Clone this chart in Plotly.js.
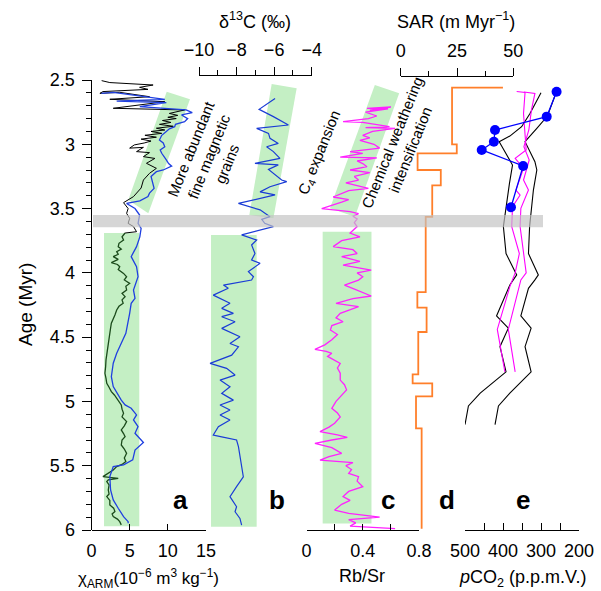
<!DOCTYPE html>
<html><head><meta charset="utf-8">
<script src="https://cdn.plot.ly/plotly-3.0.1.min.js"></script>
<style>html,body{margin:0;padding:0;background:#fff}</style>
</head><body><div id="chart" style="width:601px;height:591px"></div>
<script>
// ---------- DATA ----------
// Age axis ticks
const ageTicks = [2.5, 3, 3.5, 4, 4.5, 5, 5.5, 6];
const ageTickText = ['2.5', '3', '3.5', '4', '4.5', '5', '5.5', '6'];

// Panel a: chi_ARM (age, value)
const aBlack = [[2.505,1.33],[2.52,2.4],[2.539,8.07],[2.557,6.3],[2.573,7.4],[2.59,1.5],[2.604,1.1],[2.596,3.7],[2.63,7.6],[2.65,2.4],[2.669,9.6],[2.72,2.85],[2.733,12.2],[2.76,10.2],[2.775,11.3],[2.79,10.0],[2.80,11.1],[2.815,9.3],[2.83,10.4],[2.845,8.9],[2.86,10.7],[2.875,8.5],[2.889,9.6],[2.90,7.8],[2.915,9.2],[2.93,7.0],[2.945,8.5],[2.96,6.5],[2.975,7.8],[2.99,6.9],[3.005,5.6],[3.03,5.0],[3.024,6.8],[3.057,5.9],[3.065,7.6],[3.096,6.8],[3.11,8.3],[3.148,7.2],[3.187,8.5],[3.226,7.6],[3.278,6.8],[3.34,6.5],[3.407,5.5],[3.433,4.8],[3.454,4.2],[3.5,4.8],[3.537,4.6],[3.576,5.0],[3.615,4.8],[3.64,5.5],[3.68,5.9],[3.69,4.4]];
const aGreen = [[3.69,4.4],[3.72,4.0],[3.744,4.2],[3.77,3.6],[3.796,3.5],[3.815,3.9],[3.835,3.3],[3.855,3.5],[3.874,2.85],[3.895,3.5],[3.92,2.6],[3.935,3.4],[3.952,3.7],[3.975,3.5],[4.004,4.2],[4.03,4.6],[4.055,4.3],[4.082,5.0],[4.105,4.5],[4.133,4.6],[4.16,4.0],[4.185,4.4],[4.21,4.0],[4.237,4.15],[4.26,3.6],[4.289,3.3],[4.328,3.07],[4.36,2.8],[4.392,2.6],[4.43,2.5],[4.47,2.4],[4.52,2.2],[4.574,2.07],[4.62,2.0],[4.677,1.9],[4.73,1.85],[4.781,1.76],[4.82,1.9],[4.859,2.0],[4.89,2.3],[4.924,2.6],[4.95,3.0],[4.976,3.3],[5.0,3.6],[5.027,3.9],[5.06,4.0],[5.092,4.2],[5.12,4.0],[5.157,4.6],[5.19,4.3],[5.222,3.9],[5.25,4.2],[5.274,4.4],[5.3,4.0],[5.339,3.9],[5.37,4.3],[5.404,4.6],[5.44,4.3],[5.468,4.5],[5.49,4.0],[5.507,3.3],[5.533,2.85],[5.56,2.2],[5.585,1.5],[5.598,3.5],[5.61,2.2],[5.624,2.0],[5.65,2.3],[5.689,2.2],[5.72,2.3],[5.74,2.0],[5.77,2.4],[5.805,2.4],[5.83,2.9],[5.857,3.07],[5.875,2.7],[5.896,2.85],[5.915,3.4],[5.935,3.7],[5.96,3.9]];
const aBlue = [[2.604,1.3],[2.596,2.85],[2.65,9.6],[2.664,3.3],[2.676,9.8],[2.707,6.33],[2.733,12.4],[2.754,13.2],[2.772,11.8],[2.80,12.6],[2.824,12.2],[2.845,11.0],[2.863,10.9],[2.88,10.2],[2.90,9.8],[2.93,9.2],[2.967,8.9],[2.99,9.4],[3.019,9.6],[3.045,9.0],[3.07,9.2],[3.1,9.6],[3.122,9.8],[3.15,10.1],[3.17,10.5],[3.2,9.4],[3.213,8.5],[3.25,7.8],[3.30,8.0],[3.343,8.2],[3.38,7.6],[3.407,7.4],[3.44,6.33],[3.46,4.6],[3.5,5.7],[3.55,6.3],[3.615,6.1],[3.654,6.5],[3.72,6.33],[3.796,5.9],[3.874,5.2],[3.952,5.9],[4.03,6.1],[4.133,5.5],[4.198,5.7],[4.237,5.2],[4.315,5.0],[4.392,4.8],[4.47,4.5],[4.548,3.9],[4.626,3.3],[4.703,2.85],[4.807,2.6],[4.885,2.85],[4.95,3.5],[4.99,3.9],[5.027,4.4],[5.053,5.2],[5.105,5.9],[5.144,5.5],[5.196,6.1],[5.248,5.7],[5.32,6.8],[5.378,5.7],[5.455,5.4],[5.494,4.2],[5.507,2.85],[5.585,2.4],[5.689,2.5],[5.766,2.85],[5.831,3.5],[5.896,4.2],[5.935,4.8],[5.948,4.8]];

// Panel b: delta13C (age, value)
const bBlue = [[2.643,-5.95],[2.728,-6.8],[2.785,-6.04],[2.85,-5.24],[2.876,-6.93],[2.915,-6.3],[2.954,-6.22],[2.993,-5.78],[3.019,-6.4],[3.057,-6.04],[3.11,-5.69],[3.148,-7.02],[3.16,-5.78],[3.195,-6.3],[3.278,-5.6],[3.29,-5.33],[3.33,-6.22],[3.37,-6.75],[3.394,-5.95],[3.46,-7.9],[3.51,-6.75],[3.563,-6.22],[3.584,-6.66],[3.615,-6.5],[3.64,-6.04],[3.705,-7.73],[3.745,-6.93],[3.783,-7.2],[3.85,-7.02],[3.9,-7.2],[3.926,-6.75],[3.99,-7.37],[4.03,-7.1],[4.056,-7.2],[4.095,-8.7],[4.12,-8.44],[4.173,-9.24],[4.237,-8.35],[4.276,-8.79],[4.315,-8.17],[4.341,-8.79],[4.38,-8.08],[4.432,-8.79],[4.497,-7.82],[4.549,-8.35],[4.575,-7.9],[4.64,-8.26],[4.704,-9.41],[4.743,-8.53],[4.795,-8.08],[4.834,-8.88],[4.886,-8.35],[4.937,-8.79],[4.99,-8.17],[5.028,-8.88],[5.067,-8.35],[5.106,-8.88],[5.145,-8.35],[5.197,-8.97],[5.261,-9.24],[5.275,-8.79],[5.3,-8.0],[5.352,-7.9],[5.43,-7.82],[5.534,-7.73],[5.586,-7.64],[5.663,-8.0],[5.741,-8.35],[5.819,-8.0],[5.858,-8.08],[5.91,-7.82],[5.962,-7.73]];

// Panel c: Rb/Sr (age, value)
const cMag = [[2.72,0.43],[2.71,0.60],[2.735,0.45],[2.725,0.58],[2.75,0.42],[2.78,0.50],[2.80,0.44],[2.824,0.26],[2.83,0.40],[2.863,0.59],[2.87,0.42],[2.876,0.63],[2.90,0.47],[2.93,0.40],[2.95,0.45],[2.97,0.38],[3.0,0.48],[3.03,0.52],[3.057,0.31],[3.07,0.40],[3.1,0.24],[3.105,0.50],[3.13,0.36],[3.15,0.40],[3.174,0.43],[3.2,0.31],[3.22,0.45],[3.25,0.34],[3.278,0.37],[3.30,0.28],[3.343,0.44],[3.36,0.30],[3.41,0.19],[3.43,0.30],[3.45,0.25],[3.50,0.108],[3.524,0.31],[3.54,0.37],[3.56,0.33],[3.58,0.36],[3.61,0.34],[3.64,0.36],[3.69,0.31],[3.72,0.38],[3.75,0.25],[3.796,0.19],[3.82,0.33],[3.85,0.36],[3.874,0.25],[3.91,0.38],[3.94,0.26],[3.978,0.46],[4.0,0.36],[4.03,0.40],[4.056,0.37],[4.095,0.27],[4.13,0.35],[4.18,0.46],[4.20,0.33],[4.237,0.21],[4.263,0.37],[4.29,0.30],[4.315,0.24],[4.35,0.21],[4.38,0.26],[4.41,0.18],[4.444,0.17],[4.48,0.22],[4.52,0.18],[4.56,0.13],[4.595,0.06],[4.61,0.14],[4.626,0.18],[4.65,0.15],[4.68,0.20],[4.704,0.24],[4.74,0.22],[4.78,0.24],[4.834,0.24],[4.87,0.27],[4.91,0.285],[4.95,0.25],[5.0,0.21],[5.054,0.18],[5.09,0.22],[5.12,0.24],[5.17,0.20],[5.2,0.16],[5.235,0.096],[5.26,0.22],[5.28,0.29],[5.30,0.18],[5.326,0.06],[5.36,0.18],[5.404,0.25],[5.43,0.16],[5.456,0.096],[5.476,0.33],[5.50,0.28],[5.53,0.32],[5.56,0.30],[5.585,0.37],[5.62,0.36],[5.663,0.40],[5.70,0.30],[5.74,0.26],[5.77,0.31],[5.80,0.25],[5.845,0.20],[5.87,0.30],[5.90,0.52],[5.92,0.30],[5.945,0.35],[5.97,0.31],[5.99,0.63]];

// Panel d: SAR step (top age of each step, SAR value)
const dAge = [2.56, 2.56, 3.0, 3.07, 3.2, 3.32, 3.565, 4.15, 4.27, 4.46, 4.79, 4.86, 4.96, 5.21, 5.99];
const dSAR = [45.4, 22.8, 24.9, 7.5, 17.8, 14.0, 11.1, 7.4, 11.5, 7.8, 5.3, 14.0, 6.8, 9.3, 9.3];

// Panel e: pCO2 (age, ppmV)
const eBlackL = [[2.599,300],[2.76,329],[2.863,351],[2.936,382],[2.98,410],[3.161,375],[3.304,383],[3.485,392],[3.64,399],[3.85,392],[4.016,364],[4.094,382],[4.335,417],[4.43,386],[4.574,408],[4.77,392],[4.936,460],[5.035,491],[5.18,500]];
const eBlackR = [[2.604,261],[2.78,283],[2.876,311],[2.98,342],[3.135,316],[3.2,311],[3.356,320],[3.537,327],[3.64,330],[3.85,333],[4.016,307],[4.055,316],[4.12,333],[4.335,353],[4.43,326],[4.574,342],[4.77,326],[4.936,382],[5.035,412],[5.18,421]];
const eMagL = [[2.59,364],[2.597,342],[2.76,346],[3.044,339],[3.109,368],[3.187,346],[3.356,366],[3.395,355],[3.485,375],[3.64,377],[3.85,357],[4.0,368],[4.107,382],[4.44,415],[4.77,395]];
const eMagR = [[2.593,345],[2.604,316],[2.73,325],[2.889,332],[3.018,345],[3.122,331],[3.278,346],[3.356,333],[3.498,353],[3.64,355],[4.0,339],[4.055,353],[4.44,386],[4.77,368]];
const eDots = [[2.591,259],[2.785,285],[2.889,421],[2.98,424],[3.044,456],[3.169,347],[3.49,379]];

// Highlight boxes (value, age) corners
const boxAtilt = [[9.85,2.591],[12.9,2.65],[7.44,3.537],[4.82,3.433]];
const boxArect = [[1.64,3.69],[6.26,5.97]];
const boxBtilt = [[-6.13,2.531],[-4.80,2.565],[-6.04,3.576],[-7.32,3.55]];
const boxBrect = [[-9.36,3.705],[-6.93,5.974]];
const boxCtilt = [[0.486,2.539],[0.659,2.603],[0.344,3.563],[0.167,3.498]];
const boxCrect = [[0.115,3.68],[0.462,5.95]];
const greyBand = [3.55, 3.645];

// ---------- LAYOUT HELPERS ----------
const W = 601, H = 591;
const px = v => v / W;
const py = v => 1 - v / H;
const FONT = 'Liberation Sans, Arial, Helvetica, sans-serif';
const GREEN = '#c4efc4';

const xs = arr => arr.map(p => p[1]);
const ys = arr => arr.map(p => p[0]);

function line(arr, xa, color, width) {
  return {x: xs(arr), y: ys(arr), xaxis: xa, yaxis: 'y', mode: 'lines',
          line: {color: color, width: width}, hoverinfo: 'skip', showlegend: false};
}

const traces = [
  line(aBlack, 'x', '#000000', 1),
  line(aGreen, 'x', '#1b4a1b', 1.3),
  line(aBlue, 'x', '#2040e0', 1.3),
  line(bBlue, 'x2', '#1a3cd6', 1.2),
  line(cMag, 'x3', '#ff22ff', 1.3),
  {x: dSAR, y: dAge, xaxis: 'x4', yaxis: 'y', mode: 'lines', line: {color: '#ff7f2a', width: 1.8, shape: 'vh'}, hoverinfo: 'skip', showlegend: false},
  line(eBlackL, 'x5', '#000000', 1.1),
  line(eBlackR, 'x5', '#000000', 1.1),
  line(eMagL, 'x5', '#ff00ff', 1.1),
  line(eMagR, 'x5', '#ff00ff', 1.1),
  {x: xs(eDots), y: ys(eDots), xaxis: 'x5', yaxis: 'y', mode: 'lines+markers',
   line: {color: '#0000ff', width: 1.3}, marker: {color: '#0000ff', size: 10},
   hoverinfo: 'skip', showlegend: false}
];

function polyPath(pts) {
  return 'M' + pts.map(p => p[0] + ',' + p[1]).join(' L') + ' Z';
}
function rectShape(r, xa) {
  return {type: 'rect', xref: xa, yref: 'y', x0: r[0][0], x1: r[1][0], y0: r[0][1], y1: r[1][1],
          fillcolor: GREEN, line: {width: 0}, layer: 'below'};
}
function tiltShape(pts, xa) {
  return {type: 'path', xref: xa, yref: 'y', path: polyPath(pts), fillcolor: GREEN, line: {width: 0}, layer: 'below'};
}

const shapes = [
  tiltShape(boxAtilt, 'x'), rectShape(boxArect, 'x'),
  tiltShape(boxBtilt, 'x2'), rectShape(boxBrect, 'x2'),
  tiltShape(boxCtilt, 'x3'), rectShape(boxCrect, 'x3'),
  {type: 'rect', xref: 'paper', yref: 'y', x0: px(93), x1: px(543), y0: greyBand[0], y1: greyBand[1],
   fillcolor: 'rgba(195,195,195,0.68)', line: {width: 0}, layer: 'above'}
];

const tickFont = {family: FONT, size: 18, color: '#000'};
const baseX = {showgrid: false, zeroline: false, showline: true, linecolor: '#000', linewidth: 1,
               tickcolor: '#000', tickwidth: 1, tickfont: tickFont, fixedrange: true};

const layout = {
  width: W, height: H, margin: {l: 0, r: 0, t: 0, b: 0},
  paper_bgcolor: '#fff', plot_bgcolor: 'rgba(0,0,0,0)',
  font: {family: FONT, color: '#000'},
  showlegend: false,
  yaxis: {domain: [py(530), py(80)], range: [6, 2.5], anchor: 'x', showgrid: false, zeroline: false,
          showline: true, linecolor: '#000', linewidth: 1, ticks: 'outside', ticklen: 9, tickwidth: 1,
          tickcolor: '#000', tickvals: ageTicks, ticktext: ageTickText, tickfont: {family: FONT, size: 18},
          ticklabelstandoff: 3, fixedrange: true,
          minor: {dtick: 0.1, tick0: 2.5, ticks: 'outside', ticklen: 5, tickcolor: '#000', showgrid: false}},
  xaxis: Object.assign({}, baseX, {domain: [px(91.5), px(206)], range: [0, 15], anchor: 'free', position: py(530),
          side: 'bottom', ticks: 'inside', ticklen: 6, tickvals: [0, 5, 10, 15], ticklabelstandoff: 4}),
  xaxis2: Object.assign({}, baseX, {domain: [px(199), px(311.7)], range: [-10, -4], anchor: 'free', position: py(75),
          side: 'top', ticks: 'outside', ticklen: 8, tickvals: [-10, -8, -6, -4], ticklabelstandoff: 4,
          minor: {tickvals: [-9, -7, -5], ticks: 'outside', ticklen: 5, tickcolor: '#000'}}),
  xaxis3: Object.assign({}, baseX, {domain: [px(306.5), px(419)], range: [0, 0.8], anchor: 'free', position: py(530),
          side: 'bottom', ticks: 'inside', ticklen: 6, tickvals: [0, 0.4, 0.8], ticklabelstandoff: 4,
          minor: {tickvals: [0.2, 0.6], ticks: 'inside', ticklen: 6, tickcolor: '#000'}}),
  xaxis4: Object.assign({}, baseX, {domain: [px(400.7), px(513.3)], range: [0, 50], anchor: 'free', position: py(76),
          side: 'top', ticks: 'outside', ticklen: 8, tickvals: [0, 25, 50], ticklabelstandoff: 4,
          minor: {tickvals: [12.5, 37.5], ticks: 'outside', ticklen: 5, tickcolor: '#000'}}),
  xaxis5: Object.assign({}, baseX, {domain: [px(465), px(579)], range: [500, 200], anchor: 'free', position: py(530),
          side: 'bottom', ticks: 'inside', ticklen: 7, tickvals: [500, 400, 300, 200], ticklabelstandoff: 4,
          minor: {tickvals: [450, 350, 250], ticks: 'inside', ticklen: 7, tickcolor: '#000'}}),
  shapes: shapes,
  annotations: []
};

function ann(text, x, y, size, opts) {
  return Object.assign({text: text, xref: 'paper', yref: 'paper', x: px(x), y: py(y), showarrow: false,
    xanchor: 'center', yanchor: 'middle', font: {family: FONT, size: size, color: '#000'}}, opts || {});
}

layout.annotations.push(
  ann('Age (Myr)', 25, 305, 19, {textangle: -90}),
  ann('χ<sub>ARM</sub>(10<sup>−6</sup> m<sup>3</sup> kg<sup>−1</sup>)', 148, 578, 17),
  ann('Rb/Sr', 362, 576, 18),
  ann('<i>p</i>CO<sub>2</sub> (p.p.m.V.)', 522, 578, 18),
  ann('δ<sup>13</sup>C (‰)', 255, 20, 18),
  ann('SAR (m Myr<sup>−1</sup>)', 456, 21, 18),
  ann('<b>a</b>', 180, 500, 26),
  ann('<b>b</b>', 277, 500, 26),
  ann('<b>c</b>', 388, 500, 26),
  ann('<b>d</b>', 447, 500, 26),
  ann('<b>e</b>', 523, 500, 26),
  ann('More abundant<br>fine magnetic<br>grains', 209, 156, 15, {textangle: -68}),
  ann('C<sub>4</sub> expansion', 319, 153, 15, {textangle: -68}),
  ann('Chemical weathering<br>intensification', 401, 146, 15, {textangle: -68})
);

Plotly.newPlot('chart', traces, layout, {displayModeBar: false});
</script></body></html>
